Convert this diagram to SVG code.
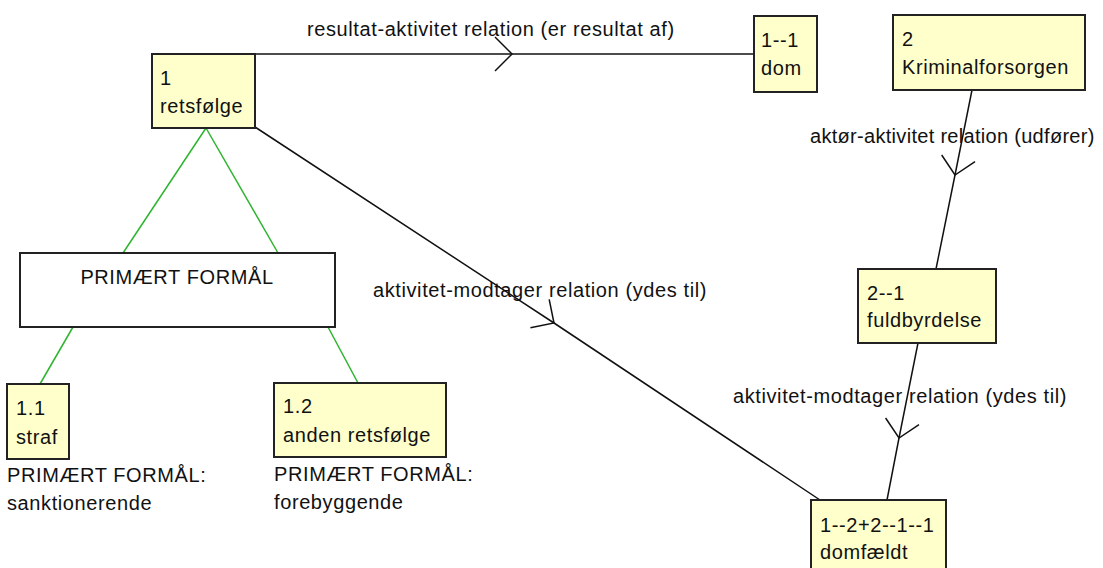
<svg xmlns="http://www.w3.org/2000/svg" width="1103" height="568" viewBox="0 0 1103 568">
  <style>
    text { font-family: "Liberation Sans", Arial, sans-serif; font-size: 20px; letter-spacing: 0.6px; fill: #111; }
    .tight { letter-spacing: 0.3px; }
    .node { fill: #ffffcc; stroke: #222; stroke-width: 2; }
    .plain { fill: #ffffff; stroke: #222; stroke-width: 2; }
    .rel { fill: none; stroke: #111; stroke-width: 1.5; marker-mid: url(#chevron); }
    .tree { fill: none; stroke: #2db42d; stroke-width: 1.5; }
  </style>
  <defs>
    <!-- open chevron placed partway along each relation line -->
    <marker id="chevron" markerUnits="userSpaceOnUse" markerWidth="40" markerHeight="40" refX="0" refY="0" viewBox="-20 -20 40 40" orient="auto" overflow="visible">
      <path d="M -17 -17 L 0 0 L -17 17" fill="none" stroke="#111" stroke-width="1.5"/>
    </marker>
  </defs>

  <rect width="1103" height="568" fill="#ffffff"/>

  <g id="connectors">
    <path class="rel" d="M 255 54 L 512 54 L 754 54"/>
    <path class="rel" d="M 255 127 L 554 323 L 820 500"/>
    <path class="rel" d="M 972 90 L 955 175 L 936 269"/>
    <path class="rel" d="M 918 343 L 899 438 L 887 500"/>
    <path class="tree" d="M 206 128 L 123 253"/>
    <path class="tree" d="M 206 128 L 278 253"/>
    <path class="tree" d="M 73 327 L 40 384"/>
    <path class="tree" d="M 328 327 L 358 383"/>
  </g>

  <g id="labels">
    <text x="307" y="36">resultat-aktivitet relation (er resultat af)</text>
    <text x="373" y="297">aktivitet-modtager relation (ydes til)</text>
    <text class="tight" x="810" y="143">aktør-aktivitet relation (udfører)</text>
    <text x="733" y="403">aktivitet-modtager relation (ydes til)</text>
  </g>

  <g id="node-1">
    <rect class="node" x="152" y="54" width="103" height="74"/>
    <text x="160" y="85">1</text>
    <text x="160" y="113">retsfølge</text>
  </g>

  <g id="node-1-1">
    <rect class="node" x="754" y="16" width="63" height="76"/>
    <text x="761" y="47">1--1</text>
    <text x="761" y="75">dom</text>
  </g>

  <g id="node-2">
    <rect class="node" x="893" y="15" width="192" height="75"/>
    <text x="902" y="46">2</text>
    <text x="902" y="74">Kriminalforsorgen</text>
  </g>

  <g id="node-2-1">
    <rect class="node" x="858" y="269" width="138" height="74"/>
    <text x="867" y="300">2--1</text>
    <text x="867" y="327">fuldbyrdelse</text>
  </g>

  <g id="node-domfaeldt">
    <rect class="node" x="811" y="500" width="135" height="80"/>
    <text x="820" y="532">1--2+2--1--1</text>
    <text x="820" y="559">domfældt</text>
  </g>

  <g id="node-formaal">
    <rect class="plain" x="20" y="253" width="315" height="74"/>
    <text x="177" y="284" text-anchor="middle">PRIMÆRT FORMÅL</text>
  </g>

  <g id="node-1.1">
    <rect class="node" x="7" y="384" width="62" height="75"/>
    <text x="16" y="415">1.1</text>
    <text x="16" y="444">straf</text>
    <text x="7" y="482">PRIMÆRT FORMÅL:</text>
    <text x="7" y="510">sanktionerende</text>
  </g>

  <g id="node-1.2">
    <rect class="node" x="274" y="383" width="172" height="74"/>
    <text x="283" y="413">1.2</text>
    <text x="283" y="442">anden retsfølge</text>
    <text x="274" y="481">PRIMÆRT FORMÅL:</text>
    <text x="274" y="509">forebyggende</text>
  </g>
</svg>
